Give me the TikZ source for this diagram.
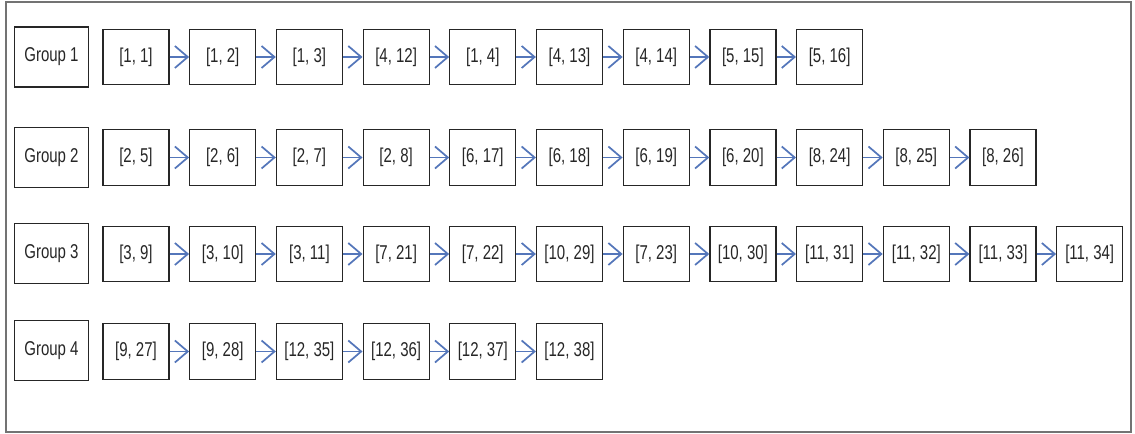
\documentclass[tikz,border=0pt]{standalone}
\usepackage{fontspec}
\newfontfamily\narrowsf[FakeStretch=0.75]{Liberation Sans}
\usetikzlibrary{arrows.meta}
\definecolor{linkblue}{RGB}{84,118,186}

\begin{document}
\begin{tikzpicture}[x=0.75pt, y=-0.75pt,
    grp/.style={draw=black!85, line width=0.9pt, minimum width=56pt,
      minimum height=45pt, inner sep=0pt, text=black!85,
      font=\narrowsf\fontsize{15}{17}\selectfont},
    cell/.style={draw=black!85, line width=0.9pt, minimum width=49.5pt,
      minimum height=41.5pt, inner sep=0pt, text=black!85,
      font=\narrowsf\fontsize{15}{17}\selectfont},
    link/.style={-{Straight Barb[length=3.4mm, width=5.8mm, line width=1.3pt]},
      line width=1.1pt, linkblue}
  ]
  \useasboundingbox (0,0) rectangle (1135,434);
  % outer frame
  \draw[black!55, line width=1.2pt] (6,2) rectangle (1131,432);

  % group 1
  \node[grp] (g1) at (51.5,57) {Group 1};
  \foreach \t [count=\i] in {{[1, 1]},{[1, 2]},{[1, 3]},{[4, 12]},{[1, 4]},
      {[4, 13]},{[4, 14]},{[5, 15]},{[5, 16]}}
    \node[cell] (c1-\i) at ({136+86.7*(\i-1)},57) {\t};
  \foreach \i [remember=\i as \j (initially 1)] in {2,...,9}
    \draw[link] (c1-\j) -- (c1-\i);

  % group 2
  \node[grp] (g2) at (51.5,157.5) {Group 2};
  \foreach \t [count=\i] in {{[2, 5]},{[2, 6]},{[2, 7]},{[2, 8]},{[6, 17]},
      {[6, 18]},{[6, 19]},{[6, 20]},{[8, 24]},{[8, 25]},{[8, 26]}}
    \node[cell] (c2-\i) at ({136+86.7*(\i-1)},157.5) {\t};
  \foreach \i [remember=\i as \j (initially 1)] in {2,...,11}
    \draw[link] (c2-\j) -- (c2-\i);

  % group 3
  \node[grp] (g3) at (51.5,253.5) {Group 3};
  \foreach \t [count=\i] in {{[3, 9]},{[3, 10]},{[3, 11]},{[7, 21]},{[7, 22]},
      {[10, 29]},{[7, 23]},{[10, 30]},{[11, 31]},{[11, 32]},{[11, 33]},
      {[11, 34]}}
    \node[cell] (c3-\i) at ({136+86.7*(\i-1)},254) {\t};
  \foreach \i [remember=\i as \j (initially 1)] in {2,...,12}
    \draw[link] (c3-\j) -- (c3-\i);

  % group 4
  \node[grp] (g4) at (51.5,350.5) {Group 4};
  \foreach \t [count=\i] in {{[9, 27]},{[9, 28]},{[12, 35]},{[12, 36]},
      {[12, 37]},{[12, 38]}}
    \node[cell] (c4-\i) at ({136+86.7*(\i-1)},351.5) {\t};
  \foreach \i [remember=\i as \j (initially 1)] in {2,...,6}
    \draw[link] (c4-\j) -- (c4-\i);
\end{tikzpicture}
\end{document}
